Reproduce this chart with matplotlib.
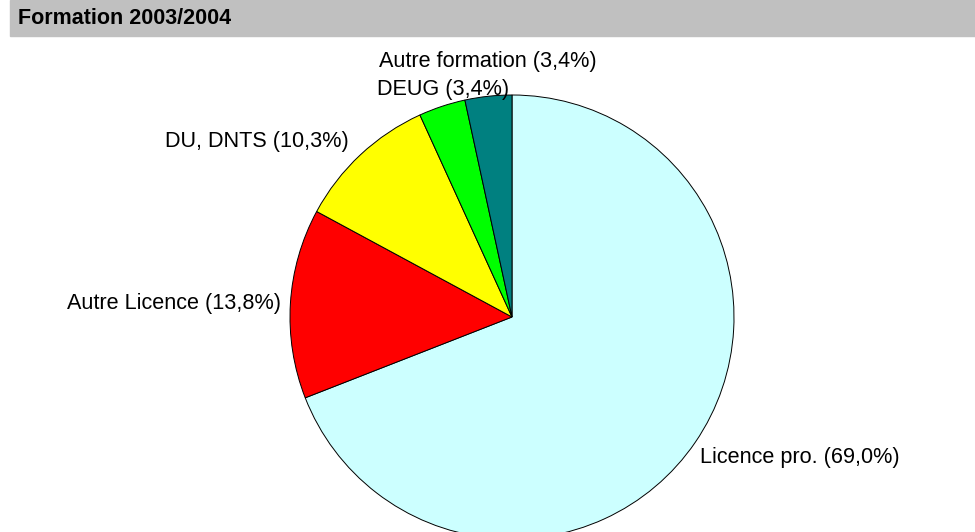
import matplotlib
matplotlib.use('Agg')
import matplotlib.pyplot as plt
from matplotlib.patches import Rectangle

plt.rcParams['font.family'] = ['Liberation Sans', 'DejaVu Sans']

# données
categories = ['Licence pro.', 'Autre Licence', 'DU, DNTS', 'DEUG', 'Autre formation']
percents = [69.0, 13.8, 10.3, 3.4, 3.4]
colors = ['#CCFFFF', '#FF0000', '#FFFF00', '#00FF00', '#008080']
title = 'Formation 2003/2004'

# positions des étiquettes (pixels, origine en haut à gauche)
label_pos = [(700, 457), (67, 303), (165, 141), (377, 89), (379, 62)]

W, H = 975, 532
fig = plt.figure(figsize=(9.75, 5.32), dpi=100)
ax = fig.add_axes([0, 0, 1, 1])

# camembert
ax.pie(percents, colors=colors, startangle=90, counterclock=False,
       center=(512, H - 317), radius=222,
       wedgeprops=dict(edgecolor='black', linewidth=0.7))
ax.set_xlim(0, W)
ax.set_ylim(0, H)
ax.set_aspect('auto')
ax.axis('off')

# bandeau de titre
ax.add_patch(Rectangle((10, H - 36), W - 10, 36, color='#C0C0C0', zorder=1))
ax.text(18, H - 18, title, fontsize=15.5, fontweight='bold', va='center', ha='left')

for cat, p, (x, y) in zip(categories, percents, label_pos):
    txt = f"{cat} ({p:.1f}%)".replace(f"{p:.1f}", f"{p:.1f}".replace('.', ','))
    ax.text(x, H - y, txt, fontsize=15.6, va='center', ha='left', zorder=5)

fig.savefig('out.png', dpi=100)
